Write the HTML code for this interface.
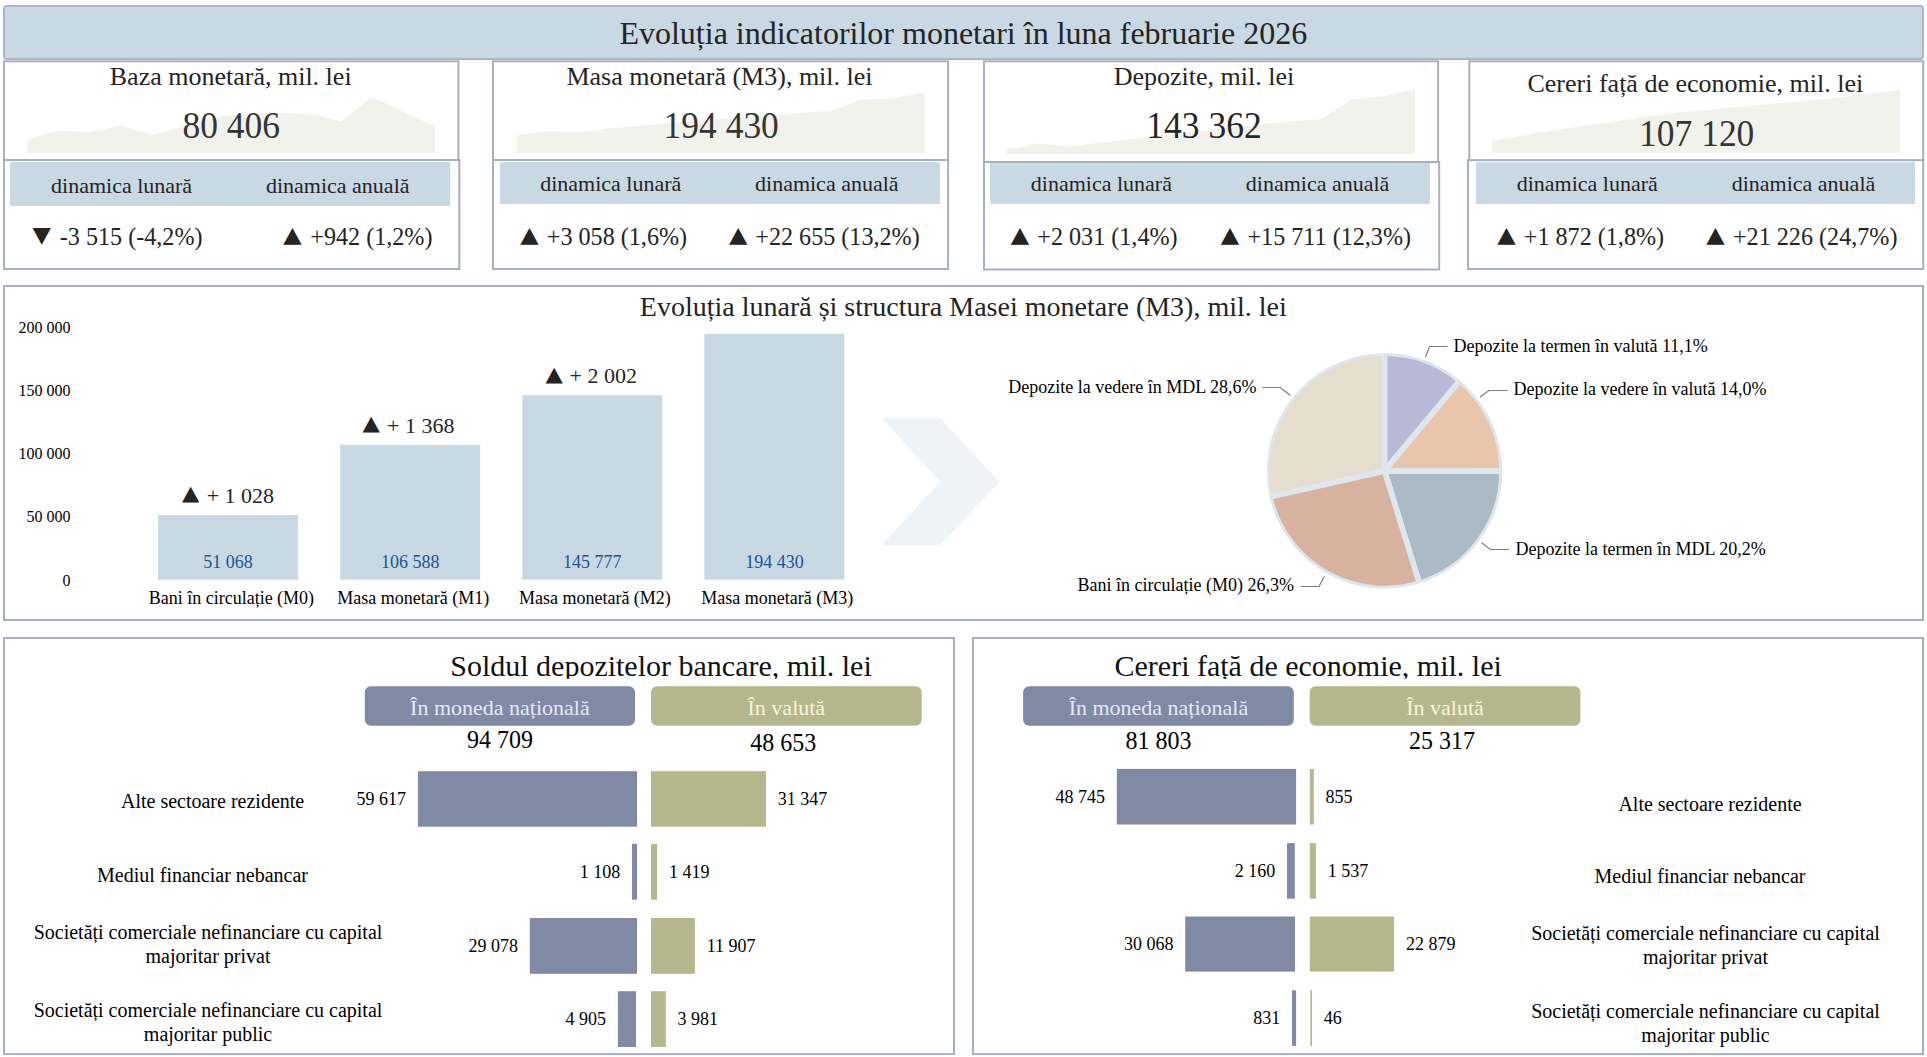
<!DOCTYPE html>
<html lang="ro"><head><meta charset="utf-8"><title>Evoluția indicatorilor monetari</title>
<style>
html,body{margin:0;padding:0;background:#fff;}
body{width:1927px;height:1057px;overflow:hidden;}
svg{display:block;}
text{font-family:"Liberation Serif","Times New Roman",serif;}
text.t{font-family:"DejaVu Sans",sans-serif;}
</style></head><body>
<svg width="1927" height="1057" viewBox="0 0 1927 1057">
<rect x="4.00" y="6.00" width="1919.00" height="53.00" fill="#c8d9e4" stroke="#adb6c6" stroke-width="2" rx="3"/>
<text x="963.30" y="44.10" font-size="32" fill="#252423" text-anchor="middle">Evoluția indicatorilor monetari în luna februarie 2026</text>
<rect x="4.00" y="61.30" width="454.40" height="98.90" fill="#fff" stroke="#a7b0c1" stroke-width="2"/>
<rect x="4.00" y="160.00" width="455.30" height="109.00" fill="#fff" stroke="#a7b0c1" stroke-width="2"/>
<polygon points="27.1,153 27.1,139.5 58.5,130.6 89.9,132 121.2,125.7 152.6,135.1 184.0,126.3 215.4,117.5 246.7,113.5 278.1,113 309.5,113.7 340.9,121.2 372.2,96.7 403.6,112 435.0,126.2 435,153" fill="#f2f2ec"/>
<text x="230.70" y="85.00" font-size="26" fill="#252423" text-anchor="middle">Baza monetară, mil. lei</text>
<text transform="translate(231.20,137.70) scale(1,1.075)" font-size="35.5" fill="#353535" text-anchor="middle">80 406</text>
<rect x="10.00" y="162.10" width="440.25" height="43.80" fill="#c8d9e4"/>
<text x="121.60" y="192.90" font-size="22" fill="#252423" text-anchor="middle">dinamica lunară</text>
<text x="337.75" y="192.90" font-size="22" fill="#252423" text-anchor="middle">dinamica anuală</text>
<text transform="translate(32.54,242.18) scale(1.087,1)" font-size="21.99" fill="#252423" class="t">▼</text>
<text transform="translate(59.80,244.9) scale(1,1.05)" font-size="24.15" fill="#252423">-3 515 (-4,2%)</text>
<text transform="translate(283.14,242.18) scale(1.087,1)" font-size="21.99" fill="#252423" class="t">▲</text>
<text transform="translate(310.30,244.9) scale(1,1.05)" font-size="24.15" fill="#252423">+942 (1,2%)</text>
<rect x="493.00" y="61.30" width="455.10" height="99.10" fill="#fff" stroke="#a7b0c1" stroke-width="2"/>
<rect x="493.00" y="160.00" width="455.10" height="109.00" fill="#fff" stroke="#a7b0c1" stroke-width="2"/>
<polygon points="516.5,153 516.5,134.7 547.9,131.2 579.3,132.3 610.7,128.3 642.0,125.6 673.4,122.8 704.8,120.3 736.2,117.8 767.6,115.3 799.0,113 830.3,110.9 861.7,99.5 893.1,97.9 924.5,92.8 924.5,153" fill="#f2f2ec"/>
<text x="719.50" y="85.00" font-size="26" fill="#252423" text-anchor="middle">Masa monetară (M3), mil. lei</text>
<text transform="translate(721.20,137.70) scale(1,1.075)" font-size="35.5" fill="#353535" text-anchor="middle">194 430</text>
<rect x="500.00" y="162.10" width="439.90" height="41.90" fill="#c8d9e4"/>
<text x="610.75" y="190.70" font-size="22" fill="#252423" text-anchor="middle">dinamica lunară</text>
<text x="826.80" y="190.70" font-size="22" fill="#252423" text-anchor="middle">dinamica anuală</text>
<text transform="translate(520.29,242.18) scale(1.087,1)" font-size="21.99" fill="#252423" class="t">▲</text>
<text transform="translate(546.80,244.9) scale(1,1.05)" font-size="24.15" fill="#252423">+3 058 (1,6%)</text>
<text transform="translate(728.94,242.18) scale(1.087,1)" font-size="21.99" fill="#252423" class="t">▲</text>
<text transform="translate(755.30,244.9) scale(1,1.05)" font-size="24.15" fill="#252423">+22 655 (13,2%)</text>
<rect x="984.00" y="61.30" width="454.10" height="100.70" fill="#fff" stroke="#a7b0c1" stroke-width="2"/>
<rect x="984.00" y="162.00" width="455.20" height="107.50" fill="#fff" stroke="#a7b0c1" stroke-width="2"/>
<polygon points="1007,153.9 1007.0,149.7 1038.4,143.5 1069.8,146.4 1101.2,142.6 1132.6,138.8 1164.0,135.2 1195.4,131.6 1226.7,128 1258.1,124.4 1289.5,121.5 1320.9,118.9 1352.3,99.5 1383.7,96.2 1415.1,89 1415.1,153.9" fill="#f2f2ec"/>
<text x="1204.00" y="85.00" font-size="26" fill="#252423" text-anchor="middle">Depozite, mil. lei</text>
<text transform="translate(1204.00,137.70) scale(1,1.075)" font-size="35.5" fill="#262626" text-anchor="middle">143 362</text>
<rect x="990.10" y="163.00" width="439.80" height="40.90" fill="#c8d9e4"/>
<text x="1101.40" y="190.70" font-size="22" fill="#252423" text-anchor="middle">dinamica lunară</text>
<text x="1317.60" y="190.70" font-size="22" fill="#252423" text-anchor="middle">dinamica anuală</text>
<text transform="translate(1010.74,242.18) scale(1.087,1)" font-size="21.99" fill="#252423" class="t">▲</text>
<text transform="translate(1037.30,244.9) scale(1,1.05)" font-size="24.15" fill="#252423">+2 031 (1,4%)</text>
<text transform="translate(1220.64,242.18) scale(1.087,1)" font-size="21.99" fill="#252423" class="t">▲</text>
<text transform="translate(1247.50,244.9) scale(1,1.05)" font-size="24.15" fill="#252423">+15 711 (12,3%)</text>
<rect x="1469.30" y="61.30" width="453.90" height="99.30" fill="#fff" stroke="#a7b0c1" stroke-width="2"/>
<rect x="1468.00" y="160.20" width="455.20" height="108.80" fill="#fff" stroke="#a7b0c1" stroke-width="2"/>
<polygon points="1492,152.8 1492.0,140.8 1523.4,135.5 1554.8,130.3 1586.2,125.6 1617.5,121 1648.9,116.5 1680.3,112.3 1711.7,109.3 1743.1,106.4 1774.5,103.6 1805.8,100.8 1837.2,97.5 1868.6,93.9 1900.0,89.5 1900,152.8" fill="#f2f2ec"/>
<text x="1695.35" y="91.90" font-size="26" fill="#252423" text-anchor="middle">Cereri față de economie, mil. lei</text>
<text transform="translate(1696.70,146.20) scale(1,1.075)" font-size="35.5" fill="#353535" text-anchor="middle">107 120</text>
<rect x="1476.00" y="162.30" width="439.00" height="41.70" fill="#c8d9e4"/>
<text x="1587.25" y="190.70" font-size="22" fill="#252423" text-anchor="middle">dinamica lunară</text>
<text x="1803.50" y="190.70" font-size="22" fill="#252423" text-anchor="middle">dinamica anuală</text>
<text transform="translate(1497.24,242.18) scale(1.087,1)" font-size="21.99" fill="#252423" class="t">▲</text>
<text transform="translate(1523.80,244.9) scale(1,1.05)" font-size="24.15" fill="#252423">+1 872 (1,8%)</text>
<text transform="translate(1706.24,242.18) scale(1.087,1)" font-size="21.99" fill="#252423" class="t">▲</text>
<text transform="translate(1733.00,244.9) scale(1,1.05)" font-size="24.15" fill="#252423">+21 226 (24,7%)</text>
<rect x="4.00" y="286.00" width="1919.00" height="334.00" fill="#fff" stroke="#a7b0c1" stroke-width="2"/>
<text x="963.30" y="316.30" font-size="28" fill="#252423" text-anchor="middle">Evoluția lunară și structura Masei monetare (M3), mil. lei</text>
<text x="70.40" y="585.70" font-size="16" fill="#000" text-anchor="end">0</text>
<text x="70.40" y="522.45" font-size="16" fill="#000" text-anchor="end">50 000</text>
<text x="70.40" y="459.20" font-size="16" fill="#000" text-anchor="end">100 000</text>
<text x="70.40" y="395.95" font-size="16" fill="#000" text-anchor="end">150 000</text>
<text x="70.40" y="332.70" font-size="16" fill="#000" text-anchor="end">200 000</text>
<rect x="158.00" y="515.11" width="140.00" height="64.59" fill="#c8d9e4"/>
<text x="228.00" y="567.60" font-size="18" fill="#1b5592" text-anchor="middle">51 068</text>
<text x="231.40" y="603.80" font-size="18" fill="#000" text-anchor="middle">Bani în circulație (M0)</text>
<text transform="translate(182.10,500.47) scale(1.089,1)" font-size="20.66" fill="#252423" class="t">▲</text>
<text x="206.70" y="502.91" font-size="22" fill="#252423" text-anchor="start">+ 1 028</text>
<rect x="340.20" y="444.90" width="140.00" height="134.80" fill="#c8d9e4"/>
<text x="410.20" y="567.60" font-size="18" fill="#1b5592" text-anchor="middle">106 588</text>
<text x="413.20" y="603.80" font-size="18" fill="#000" text-anchor="middle">Masa monetară (M1)</text>
<text transform="translate(362.40,430.25) scale(1.089,1)" font-size="20.66" fill="#252423" class="t">▲</text>
<text x="387.00" y="432.70" font-size="22" fill="#252423" text-anchor="start">+ 1 368</text>
<rect x="522.30" y="395.34" width="140.00" height="184.36" fill="#c8d9e4"/>
<text x="592.30" y="567.60" font-size="18" fill="#1b5592" text-anchor="middle">145 777</text>
<text x="594.90" y="603.80" font-size="18" fill="#000" text-anchor="middle">Masa monetară (M2)</text>
<text transform="translate(545.40,380.69) scale(1.089,1)" font-size="20.66" fill="#252423" class="t">▲</text>
<text x="569.60" y="383.14" font-size="22" fill="#252423" text-anchor="start">+ 2 002</text>
<rect x="704.40" y="333.80" width="140.00" height="245.90" fill="#c8d9e4"/>
<text x="774.40" y="567.60" font-size="18" fill="#1b5592" text-anchor="middle">194 430</text>
<text x="777.20" y="603.80" font-size="18" fill="#000" text-anchor="middle">Masa monetară (M3)</text>
<polygon points="881.6,417.9 940.2,417.9 999.3,481.7 940.2,545 881.6,545 940.2,481.7" fill="#edf3f6"/>
<clipPath id="pc"><circle cx="1384.5" cy="470.9" r="117.6"/></clipPath>
<g clip-path="url(#pc)">
<path d="M1384.5,470.9 L1384.50,353.30 A117.6,117.6 0 0 1 1459.90,380.66 Z" fill="#b9b9d6" stroke="#dee7ee" stroke-width="5.6" stroke-linejoin="round"/>
<path d="M1384.5,470.9 L1459.90,380.66 A117.6,117.6 0 0 1 1502.10,471.27 Z" fill="#e9c5ab" stroke="#dee7ee" stroke-width="5.6" stroke-linejoin="round"/>
<path d="M1384.5,470.9 L1502.10,471.27 A117.6,117.6 0 0 1 1419.36,583.21 Z" fill="#acbac6" stroke="#dee7ee" stroke-width="5.6" stroke-linejoin="round"/>
<path d="M1384.5,470.9 L1419.36,583.21 A117.6,117.6 0 0 1 1269.80,496.86 Z" fill="#d6b29f" stroke="#dee7ee" stroke-width="5.6" stroke-linejoin="round"/>
<path d="M1384.5,470.9 L1269.80,496.86 A117.6,117.6 0 0 1 1384.50,353.30 Z" fill="#e5dece" stroke="#dee7ee" stroke-width="5.6" stroke-linejoin="round"/>
</g>
<polyline points="1425.5,357 1429.5,346.5 1447.5,346.5" fill="none" stroke="#7d7d7d" stroke-width="1.2"/>
<text x="1453.50" y="352.30" font-size="18" fill="#000" text-anchor="start">Depozite la termen în valută 11,1%</text>
<polyline points="1480,397 1489,390.5 1507.5,390.5" fill="none" stroke="#7d7d7d" stroke-width="1.2"/>
<text x="1513.50" y="395.30" font-size="18" fill="#000" text-anchor="start">Depozite la vedere în valută 14,0%</text>
<polyline points="1481.7,542.8 1490.4,549.5 1509,549.5" fill="none" stroke="#7d7d7d" stroke-width="1.2"/>
<text x="1515.50" y="555.00" font-size="18" fill="#000" text-anchor="start">Depozite la termen în MDL 20,2%</text>
<polyline points="1324.3,576.5 1319,586.5 1300.4,586.5" fill="none" stroke="#7d7d7d" stroke-width="1.2"/>
<text x="1294.00" y="591.30" font-size="18" fill="#000" text-anchor="end">Bani în circulație (M0) 26,3%</text>
<polyline points="1290.4,395.5 1280.3,387.5 1262.5,387.5" fill="none" stroke="#7d7d7d" stroke-width="1.2"/>
<text x="1256.50" y="393.30" font-size="18" fill="#000" text-anchor="end">Depozite la vedere în MDL 28,6%</text>
<rect x="4.00" y="638.00" width="950.00" height="416.10" fill="#fff" stroke="#a7b0c1" stroke-width="2"/>
<clipPath id="c3"><rect x="3" y="640" width="952" height="38.7"/></clipPath>
<text x="661.00" y="675.80" font-size="30" fill="#111" text-anchor="middle" clip-path="url(#c3)">Soldul depozitelor bancare, mil. lei</text>
<rect x="364.80" y="686.35" width="270.20" height="39.45" fill="#808aa5" rx="6"/>
<rect x="651.00" y="686.35" width="270.70" height="39.45" fill="#b5b78d" rx="6"/>
<text x="499.90" y="714.80" font-size="22" fill="#e6e9f4" text-anchor="middle">În moneda națională</text>
<text x="786.35" y="714.80" font-size="22" fill="#f8f5db" text-anchor="middle">În valută</text>
<text transform="translate(499.90,747.90) scale(1,1.05)" font-size="24" fill="#000" text-anchor="middle">94 709</text>
<text transform="translate(783.35,750.50) scale(1,1.05)" font-size="24" fill="#000" text-anchor="middle">48 653</text>
<rect x="417.90" y="771.20" width="219.10" height="55.50" fill="#808aa5"/>
<rect x="651.00" y="771.20" width="115.00" height="55.50" fill="#b5b78d"/>
<text x="406.10" y="805.15" font-size="18" fill="#000" text-anchor="end">59 617</text>
<text x="777.80" y="805.15" font-size="18" fill="#000" text-anchor="start">31 347</text>
<rect x="632.00" y="843.80" width="5.00" height="55.90" fill="#808aa5"/>
<rect x="651.00" y="843.80" width="6.10" height="55.90" fill="#b5b78d"/>
<text x="620.20" y="877.95" font-size="18" fill="#000" text-anchor="end">1 108</text>
<text x="668.90" y="877.95" font-size="18" fill="#000" text-anchor="start">1 419</text>
<rect x="529.80" y="918.00" width="107.20" height="55.80" fill="#808aa5"/>
<rect x="651.00" y="918.00" width="43.90" height="55.80" fill="#b5b78d"/>
<text x="518.00" y="952.10" font-size="18" fill="#000" text-anchor="end">29 078</text>
<text x="706.70" y="952.10" font-size="18" fill="#000" text-anchor="start">11 907</text>
<rect x="617.90" y="991.20" width="18.10" height="55.80" fill="#808aa5"/>
<rect x="651.00" y="991.20" width="14.80" height="55.80" fill="#b5b78d"/>
<text x="606.10" y="1025.30" font-size="18" fill="#000" text-anchor="end">4 905</text>
<text x="677.60" y="1025.30" font-size="18" fill="#000" text-anchor="start">3 981</text>
<rect x="973.00" y="638.00" width="950.00" height="416.10" fill="#fff" stroke="#a7b0c1" stroke-width="2"/>
<clipPath id="c972"><rect x="972" y="640" width="952" height="38.7"/></clipPath>
<text x="1308.20" y="675.80" font-size="30" fill="#111" text-anchor="middle" clip-path="url(#c972)">Cereri față de economie, mil. lei</text>
<rect x="1023.10" y="686.35" width="270.70" height="39.45" fill="#808aa5" rx="6"/>
<rect x="1309.70" y="686.35" width="270.70" height="39.45" fill="#b5b78d" rx="6"/>
<text x="1158.45" y="714.80" font-size="22" fill="#e6e9f4" text-anchor="middle">În moneda națională</text>
<text x="1445.05" y="714.80" font-size="22" fill="#f8f5db" text-anchor="middle">În valută</text>
<text transform="translate(1158.45,748.50) scale(1,1.05)" font-size="24" fill="#000" text-anchor="middle">81 803</text>
<text transform="translate(1442.05,748.50) scale(1,1.05)" font-size="24" fill="#000" text-anchor="middle">25 317</text>
<rect x="1116.80" y="768.90" width="179.30" height="55.60" fill="#808aa5"/>
<rect x="1309.80" y="768.90" width="4.00" height="55.60" fill="#b5b78d"/>
<text x="1105.00" y="802.90" font-size="18" fill="#000" text-anchor="end">48 745</text>
<text x="1325.60" y="802.90" font-size="18" fill="#000" text-anchor="start">855</text>
<rect x="1287.00" y="843.10" width="7.80" height="55.60" fill="#808aa5"/>
<rect x="1309.80" y="843.10" width="6.10" height="55.60" fill="#b5b78d"/>
<text x="1275.20" y="877.10" font-size="18" fill="#000" text-anchor="end">2 160</text>
<text x="1327.70" y="877.10" font-size="18" fill="#000" text-anchor="start">1 537</text>
<rect x="1185.20" y="916.50" width="109.80" height="55.10" fill="#808aa5"/>
<rect x="1309.80" y="916.50" width="84.30" height="55.10" fill="#b5b78d"/>
<text x="1173.40" y="950.25" font-size="18" fill="#000" text-anchor="end">30 068</text>
<text x="1405.90" y="950.25" font-size="18" fill="#000" text-anchor="start">22 879</text>
<rect x="1292.00" y="990.30" width="4.10" height="55.60" fill="#808aa5"/>
<rect x="1310.30" y="990.30" width="1.70" height="55.60" fill="#b5b78d"/>
<text x="1280.20" y="1024.30" font-size="18" fill="#000" text-anchor="end">831</text>
<text x="1323.80" y="1024.30" font-size="18" fill="#000" text-anchor="start">46</text>
<text x="212.60" y="808.10" font-size="20" fill="#000" text-anchor="middle">Alte sectoare rezidente</text>
<text x="202.50" y="882.00" font-size="20" fill="#000" text-anchor="middle">Mediul financiar nebancar</text>
<text x="208.00" y="938.90" font-size="20" fill="#000" text-anchor="middle">Societăți comerciale nefinanciare cu capital</text>
<text x="208.00" y="962.90" font-size="20" fill="#000" text-anchor="middle">majoritar privat</text>
<text x="208.00" y="1016.90" font-size="20" fill="#000" text-anchor="middle">Societăți comerciale nefinanciare cu capital</text>
<text x="208.00" y="1040.80" font-size="20" fill="#000" text-anchor="middle">majoritar public</text>
<text x="1710.00" y="810.50" font-size="20" fill="#000" text-anchor="middle">Alte sectoare rezidente</text>
<text x="1700.00" y="883.00" font-size="20" fill="#000" text-anchor="middle">Mediul financiar nebancar</text>
<text x="1705.50" y="939.60" font-size="20" fill="#000" text-anchor="middle">Societăți comerciale nefinanciare cu capital</text>
<text x="1705.50" y="963.70" font-size="20" fill="#000" text-anchor="middle">majoritar privat</text>
<text x="1705.50" y="1017.70" font-size="20" fill="#000" text-anchor="middle">Societăți comerciale nefinanciare cu capital</text>
<text x="1705.50" y="1041.90" font-size="20" fill="#000" text-anchor="middle">majoritar public</text>
</svg></body></html>
